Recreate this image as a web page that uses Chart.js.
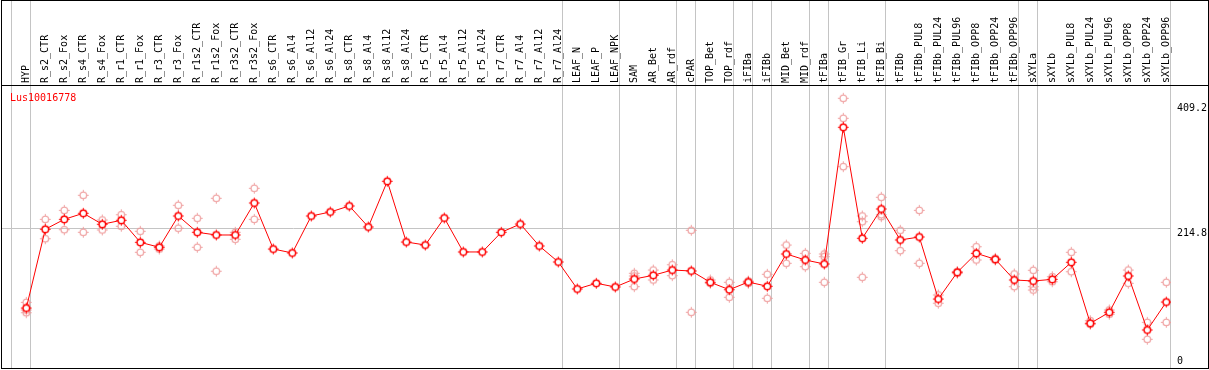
<!DOCTYPE html>
<html><head><meta charset="utf-8">
<script src="https://cdn.jsdelivr.net/npm/chart.js@4/dist/chart.umd.min.js"></script>
<style>html,body{margin:0;padding:0;background:#fff;}</style>
</head><body>
<canvas id="c" width="1209" height="370"></canvas>
<script>
const seriesName = 'Lus10016778';
const categories = ['HYP','R_s2_CTR','R_s2_Fox','R_s4_CTR','R_s4_Fox','R_r1_CTR','R_r1_Fox','R_r3_CTR','R_r3_Fox','R_r1s2_CTR','R_r1s2_Fox','R_r3s2_CTR','R_r3s2_Fox','R_s6_CTR','R_s6_Al4','R_s6_Al12','R_s6_Al24','R_s8_CTR','R_s8_Al4','R_s8_Al12','R_s8_Al24','R_r5_CTR','R_r5_Al4','R_r5_Al12','R_r5_Al24','R_r7_CTR','R_r7_Al4','R_r7_Al12','R_r7_Al24','LEAF_N','LEAF_P','LEAF_NPK','SAM','AR_Bet','AR_rdf','cPAR','TOP_Bet','TOP_rdf','iFIBa','iFIBb','MID_Bet','MID_rdf','tFIBa','tFIB_Gr','tFIB_Li','tFIB_Bi','tFIBb','tFIBb_PUL8','tFIBb_PUL24','tFIBb_PUL96','tFIBb_OPP8','tFIBb_OPP24','tFIBb_OPP96','sXYLa','sXYLb','sXYLb_PUL8','sXYLb_PUL24','sXYLb_PUL96','sXYLb_OPP8','sXYLb_OPP24','sXYLb_OPP96'];
const meanValues = [91.8,214.3,229.8,239.2,222.1,228.3,194.0,186.3,235.0,209.6,205.4,205.4,255.2,183.6,177.4,235.0,241.2,250.6,217.9,289.0,194.5,189.8,231.9,179.0,179.0,209.6,222.5,188.3,163.4,121.4,130.3,124.5,136.9,142.7,150.9,149.4,131.8,120.3,132.2,125.6,175.9,166.5,160.3,373.0,200.3,245.9,197.7,202.3,105.8,147.4,176.9,167.6,135.4,133.8,136.4,162.9,68.0,85.1,141.6,57.6,101.1];
const rep1 = [100.6,229.8,243.8,267.2,228.8,237.0,211.2,188.3,251.6,231.4,262.5,209.6,278.1,null,null,null,null,null,null,null,null,null,null,null,null,null,null,null,null,null,null,null,145.8,150.9,159.2,212.7,135.4,131.8,133.8,144.3,189.8,176.9,175.9,418.1,235.0,264.1,212.7,243.8,112.1,148.6,187.2,169.2,144.8,150.5,140.6,178.5,72.1,88.7,150.9,69.5,131.8];
const rep2 = [88.7,199.6,213.6,209.6,213.2,219.0,178.5,183.6,215.9,186.3,149.0,198.7,229.8,null,null,null,null,null,null,null,null,null,null,null,null,null,null,null,null,null,null,null,141.6,135.4,142.1,85.1,130.3,108.5,130.3,106.9,161.4,156.1,171.7,387.0,226.1,237.0,181.0,161.4,99.2,145.8,166.5,166.4,125.0,125.0,132.7,148.3,66.4,82.1,130.3,43.1,69.5];
const rep3 = [84.5,null,null,null,null,null,null,null,null,null,null,null,null,null,null,null,null,null,null,null,null,null,null,null,null,null,null,null,null,null,null,null,125.0,null,null,null,null,null,null,null,null,null,131.8,311.7,139.6,233.9,null,null,null,null,null,null,null,119.8,null,null,null,null,null,null,null];
const yTickValues = [0, 214.8, 409.2];
const groupEnds = [-1, 0, 28, 31, 34, 35, 37, 38, 39, 41, 42, 45, 52, 53, 60];

const FONT = '"DejaVu Sans Mono", monospace';
const toPts = arr => arr.map((v, i) => ({x: i, y: v})).filter(p => p.y !== null);

function makeMarker(color, fill, lw) {
  const cv = document.createElement('canvas');
  cv.width = 13; cv.height = 13;
  const g = cv.getContext('2d');
  const c = 6.5;
  g.strokeStyle = color; g.lineWidth = lw;
  if (fill) { g.fillStyle = fill; g.beginPath(); g.arc(c, c, 3.3, 0, Math.PI * 2); g.fill(); }
  g.beginPath(); g.arc(c, c, 3.3, 0, Math.PI * 2); g.stroke();
  g.lineWidth = 1;
  g.beginPath();
  g.moveTo(c, c - 3.6); g.lineTo(c, c - 5.3);
  g.moveTo(c, c + 3.6); g.lineTo(c, c + 5.3);
  g.moveTo(c - 3.6, c); g.lineTo(c - 5.3, c);
  g.moveTo(c + 3.6, c); g.lineTo(c + 5.3, c);
  g.stroke();
  return cv;
}
const meanMarker = makeMarker('#ff0000', '#ffffff', 1.5);
const repMarker = makeMarker('#ee9898', null, 1.1);

const chromePlugin = {
  id: 'chrome',
  beforeDatasetsDraw(chart) {
    const {ctx, chartArea: a, scales: {x}} = chart;
    ctx.save();
    ctx.strokeStyle = '#c4c4c4';
    ctx.lineWidth = 1;
    groupEnds.forEach(i => {
      const px = Math.round(x.getPixelForValue(i + 0.2)) + 0.5;
      ctx.beginPath(); ctx.moveTo(px, 0); ctx.lineTo(px, a.bottom); ctx.stroke();
    });
    ctx.restore();
  },
  afterDraw(chart) {
    const {ctx, chartArea: a} = chart;
    ctx.save();
    ctx.strokeStyle = '#000';
    ctx.lineWidth = 1;
    ctx.strokeRect(1.5, 0.5, chart.width - 2, a.bottom);
    ctx.beginPath(); ctx.moveTo(1, a.top + 0.5); ctx.lineTo(chart.width, a.top + 0.5); ctx.stroke();
    ctx.fillStyle = '#ff0000';
    ctx.font = '10px ' + FONT;
    ctx.textBaseline = 'alphabetic';
    ctx.fillText(seriesName, a.left + 9, a.top + 16);
    ctx.restore();
  }
};

const repStyle = {
  type: 'line', showLine: false,
  pointStyle: repMarker, pointRadius: 5, pointHoverRadius: 5
};

new Chart(document.getElementById('c'), {
  type: 'line',
  data: {
    datasets: [
      {label: seriesName, data: toPts(meanValues), borderColor: '#ff0000', borderWidth: 1,
       pointStyle: meanMarker, pointRadius: 5, pointHoverRadius: 5, tension: 0, order: 0},
      Object.assign({label: 'rep1', data: toPts(rep1), order: 1}, repStyle),
      Object.assign({label: 'rep2', data: toPts(rep2), order: 2}, repStyle),
      Object.assign({label: 'rep3', data: toPts(rep3), order: 3}, repStyle)
    ]
  },
  options: {
    responsive: false,
    animation: false,
    devicePixelRatio: 1,
    layout: {autoPadding: false, padding: {left: 1, right: 0, top: 0, bottom: 2}},
    plugins: {legend: {display: false}, title: {display: false}, tooltip: {enabled: false}},
    scales: {
      x: {
        type: 'linear', position: 'top',
        min: -1.3316, max: 60.247,
        afterFit: s => { s.height = 85; s.paddingLeft = 0; s.paddingRight = 0; },
        grid: {display: false, drawTicks: false},
        border: {display: false},
        ticks: {
          stepSize: 1, autoSkip: false, includeBounds: false,
          minRotation: 90, maxRotation: 90, padding: 2, labelOffset: 12,
          color: '#000', font: {family: FONT, size: 10},
          callback: v => (Number.isInteger(v) && categories[v] !== undefined) ? categories[v] : ''
        }
      },
      y: {
        type: 'linear', position: 'right',
        min: -1.556, max: 438.8,
        afterFit: s => { s.width = 38; s.paddingTop = 0; s.paddingBottom = 0; },
        afterBuildTicks: s => { s.ticks = yTickValues.map(v => ({value: v})); },
        grid: {
          drawTicks: false,
          color: c => (c.tick && c.tick.value === yTickValues[1]) ? '#c4c4c4' : 'rgba(0,0,0,0)'
        },
        border: {display: false},
        ticks: {
          padding: 6, labelOffset: 4, color: '#000',
          font: c => ({family: FONT, size: 10, lineHeight: c.index === 0 ? 1.95 : 1.2}),
          callback: (v, i) => i === 0 ? [String(v), ''] : String(v)
        }
      }
    }
  },
  plugins: [chromePlugin]
});
</script>
</body></html>
